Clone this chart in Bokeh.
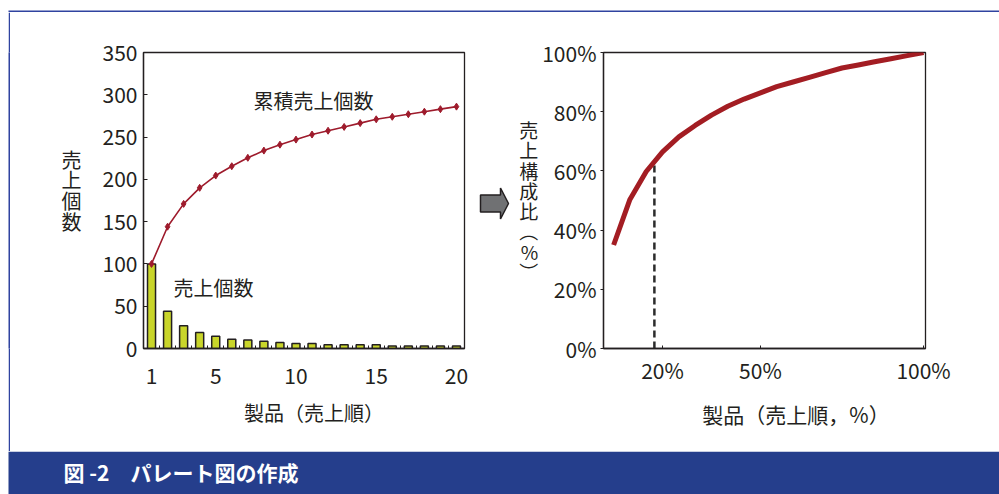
import numpy as np
from bokeh.plotting import figure
from bokeh.models import FixedTicker, Label, Spacer, Range1d
from bokeh.layouts import row, column
from bokeh.embed import file_html
from bokeh.resources import INLINE

FONT = "Noto Sans CJK JP"
INK = "#231f20"
BLUE_LINE = "#2f43a0"
BANNER = "#253e8c"
BAR_FILL = "#c9d52a"
CUM_RED = "#9e1b2c"
CURVE_RED = "#a31d23"

# ---- data -----------------------------------------------------------
products = list(range(1, 21))
sales = [100, 44, 27, 19, 14.5, 11, 10, 8.5, 7, 6, 6, 4.5, 4.5, 4.5, 4.5, 3, 3, 3, 3, 3]
cumulative = np.cumsum(sales)
share_x = [p / len(products) * 100 for p in products]          # product share (%)
share_y = list(cumulative / cumulative[-1] * 100)             # cumulative sales share (%)

left_yticks = [0, 50, 100, 150, 200, 250, 300, 350]
left_xticks = [1, 5, 10, 15, 20]
left_minor = [p + 0.5 for p in products[:-1]]
right_yticks = [0, 20, 40, 60, 80, 100]
right_xticks = [20, 50, 100]
cutoff_x = 17.5
cutoff_y = float(np.interp(cutoff_x, share_x, share_y))

title_text = "図 -2\u3000パレート図の作成"

# ---- helpers ------------------------------------------------------------
def style_axes(p):
    p.grid.visible = False
    p.outline_line_color = INK
    p.outline_line_width = 1.3
    p.axis.axis_line_color = INK
    p.axis.axis_line_width = 1.3
    p.axis.major_tick_line_color = INK
    p.axis.minor_tick_line_color = INK
    p.axis.major_label_text_font = FONT
    p.axis.major_label_text_font_size = "21px"
    p.axis.major_label_text_color = INK
    p.axis.axis_label_text_font = FONT
    p.axis.axis_label_text_font_style = "normal"
    p.axis.axis_label_text_color = INK
    p.background_fill_color = "white"
    p.border_fill_color = "white"


def add_label(p, x, y, text, size="20px", align="center", color=INK, style="normal"):
    p.add_layout(Label(x=x, y=y, text=text, text_font=FONT, text_font_size=size,
                       text_color=color, text_align=align, text_baseline="middle",
                       text_font_style=style))


def plain_fig(w, h, xr, yr, bl=0, br=0, bt=0, bb=0, fill="white"):
    f = figure(width=w, height=h, output_backend="svg", toolbar_location=None, min_border=0,
               min_border_left=bl, min_border_right=br, min_border_top=bt, min_border_bottom=bb,
               x_axis_type=None, y_axis_type=None, x_range=xr, y_range=yr)
    f.grid.visible = False
    f.outline_line_color = None
    f.background_fill_color = fill
    f.border_fill_color = fill
    return f

# ---- left chart -------------------------------------------------------
left = figure(width=465, height=439, x_range=Range1d(0.5, 20.5), y_range=Range1d(0, 350),
              output_backend="svg", toolbar_location=None,
              min_border_left=133, min_border_right=11, min_border_top=40, min_border_bottom=103)
style_axes(left)
left.yaxis.ticker = FixedTicker(ticks=left_yticks)
left.yaxis.major_tick_in = 4
left.yaxis.major_tick_out = 0
left.yaxis.minor_tick_line_color = None
left.yaxis.major_label_standoff = 6
left.yaxis.axis_label = "売\n上\n個\n数\n"
left.yaxis.axis_label_orientation = "horizontal"
left.yaxis.axis_label_text_font_size = "20px"
left.yaxis.axis_label_text_line_height = 0.71
left.yaxis.axis_label_standoff = 18
left.xaxis.ticker = FixedTicker(ticks=left_xticks, minor_ticks=left_minor)
left.xaxis.major_tick_in = 0
left.xaxis.major_tick_out = 0
left.xaxis.minor_tick_in = 3
left.xaxis.minor_tick_out = 0
left.xaxis.major_label_standoff = 19
left.xaxis.axis_label = "\u3000製品（売上順）"
left.xaxis.axis_label_text_font_size = "20px"
left.xaxis.axis_label_standoff = 11

left.vbar(x=products, top=sales, width=0.5, fill_color=BAR_FILL, line_color=INK, line_width=1.5)
left.line(products, list(cumulative), line_color=CUM_RED, line_width=1.6)
left.scatter(products, list(cumulative), marker="diamond", size=7, color=CUM_RED)

add_label(left, 11.09, 293, "累積売上個数")
add_label(left, 4.86, 72, "売上個数")

# ---- arrow (drawn in page pixels) ---------------------------------------
arrow_fig = plain_fig(40, 439, Range1d(475, 515), Range1d(348, 52), bt=40, bb=103)
arrow_shape_x = [480, 500, 500, 508, 500, 500, 480]
arrow_shape_y = [194.5, 194.5, 187.5, 203, 218.5, 211.5, 211.5]
arrow_fig.patch(arrow_shape_x, arrow_shape_y, fill_color="#707173", line_color=INK, line_width=1.5)

# ---- right chart ------------------------------------------------------
right = figure(width=484, height=439, x_range=Range1d(1.9, 100.6), y_range=Range1d(0, 100),
               output_backend="svg", toolbar_location=None,
               min_border_left=88, min_border_right=74, min_border_top=40, min_border_bottom=102)
style_axes(right)
right.yaxis.ticker = FixedTicker(ticks=right_yticks)
right.yaxis.major_label_overrides = {v: f"{v}%" for v in right_yticks}
right.yaxis.major_tick_in = 0
right.yaxis.major_tick_out = 3
right.yaxis.minor_tick_line_color = None
right.yaxis.major_label_standoff = 4
right.yaxis.axis_label = "売\n上\n構\n成\n比\n︵\n%\n︶"
right.yaxis.axis_label_orientation = "horizontal"
right.yaxis.axis_label_text_font_size = "19px"
right.yaxis.axis_label_text_line_height = 0.75
right.yaxis.axis_label_standoff = 1
right.xaxis.ticker = FixedTicker(ticks=right_xticks)
right.xaxis.major_label_overrides = {v: f"{v}%" for v in right_xticks}
right.xaxis.major_tick_in = 3
right.xaxis.major_tick_out = 0
right.xaxis.minor_tick_line_color = None
right.xaxis.major_label_standoff = 6
right.xaxis.axis_label = "\u3000\u3000\u3000製品（売上順，%）"
right.xaxis.axis_label_text_font_size = "21px"
right.xaxis.axis_label_standoff = 11

right.line([cutoff_x, cutoff_x], [0, cutoff_y], line_color="#2b2b2b", line_width=2.5, line_dash="7 4")
right.line(share_x, share_y, line_color=CURVE_RED, line_width=5)

# ---- frame lines and banner ----------------------------------------------
top_fig = plain_fig(999, 12, Range1d(0, 999), Range1d(12, 0))
top_fig.quad(left=[8], right=[999], top=[10], bottom=[12], fill_color=BLUE_LINE, line_color=None)

side_line = plain_fig(2, 439, Range1d(0, 2), Range1d(0, 439), fill=BLUE_LINE)

banner = plain_fig(999, 43, Range1d(0, 999), Range1d(43, 0))
banner.quad(left=[8], right=[999], top=[0], bottom=[43], fill_color=BANNER, line_color=None)
banner.add_layout(Label(x=63, y=20, text=title_text, text_font=FONT, text_font_size="21px",
                        text_color="white", text_align="left", text_baseline="middle",
                        text_font_style="bold"))

layout = column(
    top_fig,
    row(Spacer(width=8, height=439), side_line, left, arrow_fig, right, spacing=0),
    banner,
    spacing=0,
)

open("out.html", "w").write(file_html(layout, INLINE))
